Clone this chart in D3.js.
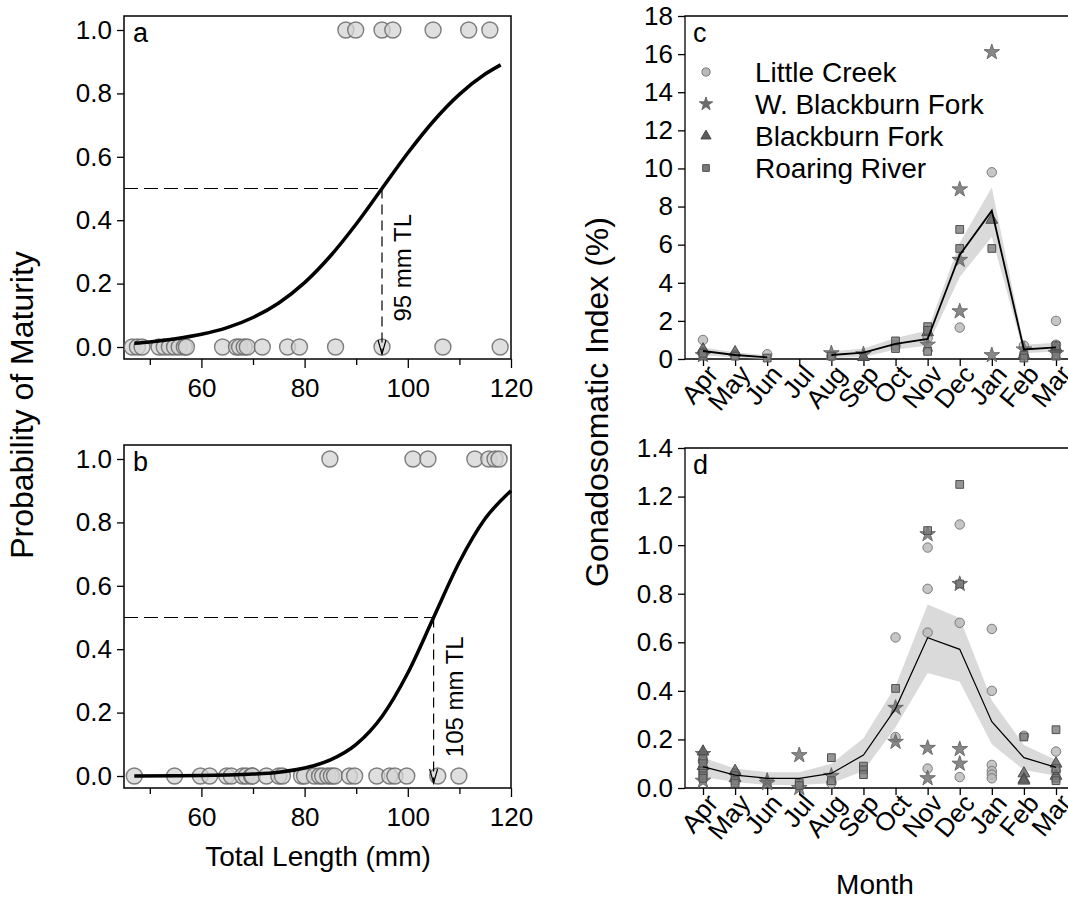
<!DOCTYPE html>
<html>
<head>
<meta charset="utf-8">
<script src="https://cdn.jsdelivr.net/npm/d3@7"></script>
<style>
body { margin: 0; background: #fff; }
text { font-family: "Liberation Sans", Arial, sans-serif; fill: #000; }
</style>
</head>
<body>
<svg id="fig" width="1068" height="900"></svg>
<script>
// ---- maturity panels (a, b) ----
const lengthTicks = [60, 80, 100, 120];
const lengthMinor = [50, 70, 90, 110];
const probTicks = [0, 0.2, 0.4, 0.6, 0.8, 1.0];

const curveLenA = [47, 50, 55, 60, 65, 70, 75, 80, 85, 90, 95, 100, 105, 110, 115, 118];
const curveProbA = [0.012, 0.016, 0.026, 0.040, 0.061, 0.093, 0.139, 0.203, 0.287, 0.388, 0.5, 0.612, 0.713, 0.797, 0.861, 0.89];
const immatureA = [46.6, 47.6, 48.5, 51.8, 52.8, 53.8, 54.8, 55.7, 56.7, 57.1, 64.1, 66.8, 67.4, 68.3, 68.9, 71.8, 76.7, 79.0, 86.0, 95.0, 106.8, 117.9];
const matureA = [88.0, 89.9, 95.0, 97.1, 104.9, 111.8, 115.9];
const l50A = 95;

const curveLenB = [47, 55, 60, 65, 70, 75, 80, 85, 90, 95, 100, 105, 110, 115, 120];
const curveProbB = [0.0002, 0.0007, 0.0014, 0.003, 0.006, 0.012, 0.025, 0.051, 0.10, 0.188, 0.325, 0.5, 0.675, 0.812, 0.90];
const immatureB = [47.0, 54.8, 59.8, 61.6, 64.9, 65.8, 68.0, 68.7, 69.7, 69.9, 72.6, 75.0, 75.7, 79.4, 80.0, 81.9, 82.9, 83.5, 84.5, 85.2, 85.8, 88.7, 89.7, 94.0, 96.5, 97.5, 99.8, 105.8, 109.9];
const matureB = [84.9, 101.0, 103.9, 113.0, 115.7, 116.9, 117.7];
const l50B = 105;

// ---- GSI panels (c, d) ----
const months = ["Apr", "May", "Jun", "Jul", "Aug", "Sep", "Oct", "Nov", "Dec", "Jan", "Feb", "Mar"];
const sites = ["Little Creek", "W. Blackburn Fork", "Blackburn Fork", "Roaring River"];
const gsiTicksC = [0, 2, 4, 6, 8, 10, 12, 14, 16, 18];
const gsiTicksD = [0, 0.2, 0.4, 0.6, 0.8, 1.0, 1.2, 1.4];

const gsiMeanC = [0.42, 0.21, 0.09, null, 0.21, 0.33, 0.79, 1.05, 5.46, 7.78, 0.5, 0.61];
const gsiLowC  = [0.2, 0.08, 0.0, null, 0.05, 0.1, 0.5, 0.7, 4.3, 6.4, 0.3, 0.4];
const gsiHighC = [0.6, 0.35, 0.2, null, 0.4, 0.55, 1.1, 1.5, 6.1, 9.0, 0.75, 0.85];

const littleCreekC = [["Apr", 1.0], ["Apr", 0.35], ["May", 0.2], ["Jun", 0.25], ["Aug", 0.15], ["Oct", 0.7], ["Nov", 1.1], ["Dec", 1.65], ["Jan", 9.8], ["Feb", 0.7], ["Mar", 2.0], ["Mar", 0.75], ["Mar", 0.4]];
const wBlackburnC = [["Apr", 0.2], ["Aug", 0.3], ["Sep", 0.25], ["Nov", 0.75], ["Dec", 8.9], ["Dec", 5.2], ["Dec", 2.5], ["Jan", 16.1], ["Jan", 0.2], ["Feb", 0.5], ["Mar", 0.3]];
const blackburnC = [["Apr", 0.5], ["May", 0.35], ["Sep", 0.1], ["Nov", 1.4], ["Jan", 7.3], ["Feb", 0.2], ["Mar", 0.6]];
const roaringC = [["Apr", 0.15], ["Apr", 0.3], ["May", 0.15], ["Jun", 0.05], ["Aug", 0.15], ["Oct", 0.95], ["Oct", 0.55], ["Nov", 1.7], ["Nov", 1.5], ["Nov", 0.4], ["Dec", 6.8], ["Dec", 5.8], ["Jan", 5.8], ["Feb", 0.2], ["Feb", 0.05], ["Mar", 0.15], ["Mar", 0.7]];

const gsiMeanD = [0.088, 0.053, 0.04, 0.04, 0.06, 0.136, 0.327, 0.619, 0.571, 0.273, 0.125, 0.085];
const gsiLowD  = [0.045, 0.025, 0.012, 0.012, 0.02, 0.07, 0.25, 0.474, 0.437, 0.18, 0.074, 0.05];
const gsiHighD = [0.125, 0.08, 0.065, 0.065, 0.1, 0.205, 0.42, 0.756, 0.70, 0.36, 0.177, 0.115];

const littleCreekD = [["Apr", 0.11], ["Apr", 0.08], ["May", 0.06], ["Aug", 0.02], ["Oct", 0.62], ["Oct", 0.21], ["Nov", 0.99], ["Nov", 0.82], ["Nov", 0.64], ["Nov", 0.08], ["Dec", 1.085], ["Dec", 0.68], ["Dec", 0.045], ["Jan", 0.655], ["Jan", 0.4], ["Jan", 0.095], ["Jan", 0.07], ["Jan", 0.055], ["Jan", 0.04], ["Feb", 0.215], ["Mar", 0.15], ["Mar", 0.07]];
const wBlackburnD = [["Apr", 0.14], ["Apr", 0.03], ["Jun", 0.03], ["Jun", 0.02], ["Jul", 0.135], ["Jul", 0.0], ["Aug", 0.05], ["Oct", 0.33], ["Oct", 0.19], ["Nov", 1.045], ["Nov", 0.165], ["Nov", 0.04], ["Dec", 0.84], ["Dec", 0.16], ["Dec", 0.1]];
const blackburnD = [["Apr", 0.15], ["Apr", 0.09], ["May", 0.07], ["May", 0.04], ["Feb", 0.06], ["Feb", 0.035], ["Feb", 0.03], ["Mar", 0.1], ["Mar", 0.05]];
const roaringD = [["Apr", 0.12], ["Apr", 0.1], ["Apr", 0.07], ["Apr", 0.06], ["Apr", 0.05], ["Apr", 0.04], ["May", 0.05], ["May", 0.03], ["May", 0.02], ["Jul", 0.02], ["Jul", 0.01], ["Aug", 0.125], ["Aug", 0.03], ["Sep", 0.09], ["Sep", 0.075], ["Sep", 0.055], ["Oct", 0.41], ["Nov", 1.06], ["Dec", 1.25], ["Dec", 0.84], ["Feb", 0.21], ["Mar", 0.24], ["Mar", 0.08], ["Mar", 0.04], ["Mar", 0.03]];

const svg = d3.select("#fig");
const tickFont = 26;

// symbols for the four sites
const siteStyle = [
    { type: d3.symbolCircle,   size: 70, fill: "#b8b8b8", stroke: "#7a7a7a" },
    { type: d3.symbolStar,     size: 75, fill: "#6a6a6a", stroke: "#6a6a6a" },
    { type: d3.symbolTriangle, size: 60, fill: "#5c5c5c", stroke: "#4a4a4a" },
    { type: d3.symbolSquare,   size: 60, fill: "#7a7a7a", stroke: "#505050" }
];

function styleAxis(ax) {
    ax.select(".domain").remove();
    ax.selectAll("line").attr("stroke", "#000").attr("stroke-width", 1.3);
    ax.selectAll("text").style("font-size", tickFont + "px").attr("fill", "#000");
}

function drawMaturity(p) {
    const g = svg.append("g");
    const x = d3.scaleLinear().domain([45, 120]).range([p.left, p.right]);
    const y = d3.scaleLinear().domain([0, 1]).range([p.y0, p.y1]);

    // frame
    g.append("rect").attr("x", p.left).attr("y", p.top)
        .attr("width", p.right - p.left).attr("height", p.bottom - p.top)
        .attr("fill", "none").attr("stroke", "#000").attr("stroke-width", 1.5);

    const ay = g.append("g").attr("transform", `translate(${p.left},0)`)
        .call(d3.axisLeft(y).tickValues(probTicks).tickFormat(d3.format(".1f")).tickSize(7).tickPadding(5));
    styleAxis(ay);

    const ax = g.append("g").attr("transform", `translate(0,${p.bottom})`)
        .call(d3.axisBottom(x).tickValues(lengthTicks).tickSize(9).tickPadding(6));
    styleAxis(ax);
    ax.selectAll("text").attr("dy", "0.9em");
    const axm = g.append("g").attr("transform", `translate(0,${p.bottom})`)
        .call(d3.axisBottom(x).tickValues(lengthMinor).tickSize(6).tickFormat(""));
    styleAxis(axm);

    // points
    const pts = p.immature.map(v => [v, 0]).concat(p.mature.map(v => [v, 1]));
    g.selectAll(".pt").data(pts).enter().append("circle")
        .attr("cx", d => x(d[0])).attr("cy", d => y(d[1])).attr("r", 8)
        .attr("fill", "#d4d4d4").attr("fill-opacity", 0.75)
        .attr("stroke", "#6a6a6a").attr("stroke-opacity", 0.85).attr("stroke-width", 1.4);

    // fitted curve
    const line = d3.line().x(d => x(d[0])).y(d => y(d[1])).curve(d3.curveMonotoneX);
    g.append("path").datum(p.curveX.map((v, i) => [v, p.curveY[i]]))
        .attr("d", line).attr("fill", "none").attr("stroke", "#000").attr("stroke-width", 3.5);

    // L50 guides
    g.append("line").attr("x1", p.left).attr("x2", x(p.l50))
        .attr("y1", y(0.5)).attr("y2", y(0.5))
        .attr("stroke", "#000").attr("stroke-width", 1.2).attr("stroke-dasharray", "14,6");
    const tipY = y(0) + 7;
    g.append("line").attr("x1", x(p.l50)).attr("x2", x(p.l50))
        .attr("y1", y(0.5)).attr("y2", tipY)
        .attr("stroke", "#000").attr("stroke-width", 1.2).attr("stroke-dasharray", "10,6");
    g.append("path")
        .attr("d", `M${x(p.l50) - 4},${tipY - 14}L${x(p.l50)},${tipY}L${x(p.l50) + 4},${tipY - 14}`)
        .attr("fill", "none").attr("stroke", "#000").attr("stroke-width", 1.2);
    g.append("text")
        .attr("transform", `translate(${x(p.l50) + 29},${y(0.25)}) rotate(-90)`)
        .attr("text-anchor", "middle").style("font-size", "24px").text(p.l50 + " mm TL");

    g.append("text").attr("x", p.left + 9).attr("y", p.top + 26)
        .style("font-size", "27px").text(p.tag);
}

drawMaturity({ tag: "a", left: 124, right: 511, top: 16, bottom: 359, y0: 347, y1: 30,
    curveX: curveLenA, curveY: curveProbA, immature: immatureA, mature: matureA, l50: l50A });
drawMaturity({ tag: "b", left: 124, right: 511, top: 445, bottom: 788, y0: 776, y1: 459,
    curveX: curveLenB, curveY: curveProbB, immature: immatureB, mature: matureB, l50: l50B });

svg.append("text").attr("transform", "translate(33,405) rotate(-90)")
    .attr("text-anchor", "middle").style("font-size", "32px").text("Probability of Maturity");
svg.append("text").attr("x", 318).attr("y", 866)
    .attr("text-anchor", "middle").style("font-size", "28px").text("Total Length (mm)");

function drawGsi(p) {
    const g = svg.append("g");
    const x = d3.scalePoint().domain(months).range([703, 1056]);
    const y = d3.scaleLinear().domain(p.domain).range([p.bottom, p.top]);

    g.append("path").attr("d", `M1075,${p.top}H${p.left}V${p.bottom}H1075`)
        .attr("fill", "none").attr("stroke", "#000").attr("stroke-width", 1.3);

    const ay = g.append("g").attr("transform", `translate(${p.left},0)`)
        .call(d3.axisLeft(y).tickValues(p.ticks).tickFormat(p.fmt).tickSize(7).tickPadding(5));
    styleAxis(ay);

    const ax = g.append("g").attr("transform", `translate(0,${p.bottom})`)
        .call(d3.axisBottom(x).tickSize(7).tickPadding(4));
    styleAxis(ax);
    ax.selectAll("text")
        .attr("text-anchor", "end")
        .attr("y", 0).attr("dy", "0.35em")
        .attr("transform", "translate(9,10) rotate(-50)");

    const rows = months.map((m, i) => ({ m: m, mean: p.mean[i], lo: p.lo[i], hi: p.hi[i] }));
    const area = d3.area().defined(d => d.mean != null)
        .x(d => x(d.m)).y0(d => y(d.lo)).y1(d => y(d.hi));
    g.append("path").datum(rows).attr("d", area).attr("fill", "#dadada");

    // site points
    p.sets.forEach((set, si) => {
        const st = siteStyle[si];
        const sym = d3.symbol().type(st.type).size(st.size);
        g.selectAll(".s" + si).data(set).enter().append("path")
            .attr("d", sym)
            .attr("transform", d => `translate(${x(d[0])},${y(d[1])})`)
            .attr("fill", st.fill).attr("fill-opacity", 0.8)
            .attr("stroke", st.stroke).attr("stroke-width", 1);
    });

    const line = d3.line().defined(d => d.mean != null).x(d => x(d.m)).y(d => y(d.mean));
    g.append("path").datum(rows).attr("d", line)
        .attr("fill", "none").attr("stroke", "#000").attr("stroke-width", p.lw);

    g.append("text").attr("x", p.left + 8).attr("y", p.top + 26)
        .style("font-size", "27px").text(p.tag);
}

drawGsi({ tag: "c", left: 685, top: 16, bottom: 359, domain: [0, 18], ticks: gsiTicksC, fmt: d3.format("d"),
    mean: gsiMeanC, lo: gsiLowC, hi: gsiHighC, lw: 1.8,
    sets: [littleCreekC, wBlackburnC, blackburnC, roaringC] });
drawGsi({ tag: "d", left: 685, top: 448, bottom: 788, domain: [0, 1.4], ticks: gsiTicksD, fmt: d3.format(".1f"),
    mean: gsiMeanD, lo: gsiLowD, hi: gsiHighD, lw: 1.2,
    sets: [littleCreekD, wBlackburnD, blackburnD, roaringD] });

// legend in panel c
const legend = svg.append("g");
sites.forEach((s, i) => {
    const st = siteStyle[i];
    const cy = 72 + i * 32;
    legend.append("path")
        .attr("d", d3.symbol().type(st.type).size(st.size * 0.75))
        .attr("transform", `translate(706,${cy})`)
        .attr("fill", st.fill).attr("stroke", st.stroke).attr("stroke-width", 1);
    legend.append("text").attr("x", 755).attr("y", cy).attr("dy", "0.36em")
        .style("font-size", "28px").text(s);
});

svg.append("text").attr("transform", "translate(608,402) rotate(-90)")
    .attr("text-anchor", "middle").style("font-size", "32px").text("Gonadosomatic Index (%)");
svg.append("text").attr("x", 875).attr("y", 894)
    .attr("text-anchor", "middle").style("font-size", "28px").text("Month");
</script>
</body>
</html>
